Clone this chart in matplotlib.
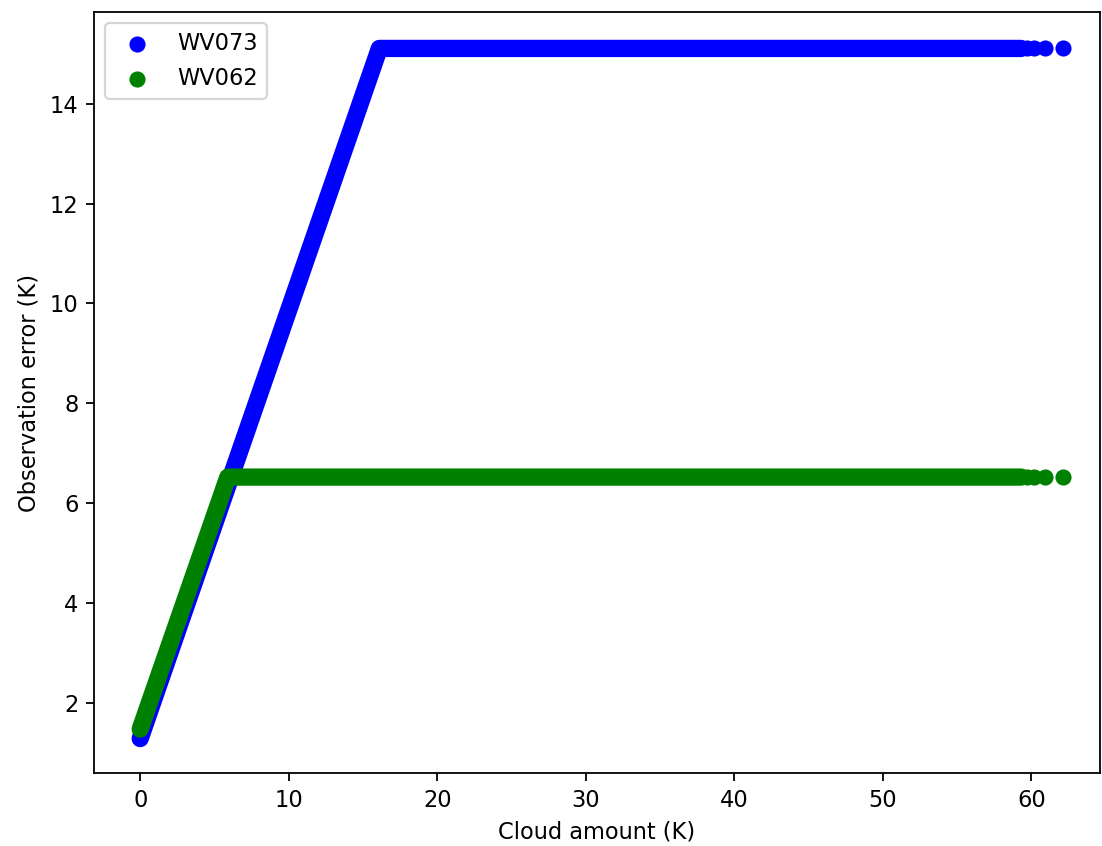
import matplotlib
matplotlib.use("Agg")
import matplotlib.pyplot as plt

# Observation error vs cloud amount
# dense part of each series: the points lie on a piecewise line (breakpoints)
wv073_x = [0.0, 16.1, 59.3]
wv073_y = [1.28, 15.11, 15.11]
wv062_x = [0.0, 5.9, 59.3]
wv062_y = [1.47, 6.52, 6.52]

# sparse points at the end of the plateau
wv073_tail_x = [59.7, 60.2, 60.9, 62.1]
wv073_tail_y = [15.11, 15.11, 15.11, 15.11]
wv062_tail_x = [59.7, 60.2, 60.9, 62.1]
wv062_tail_y = [6.52, 6.52, 6.52, 6.52]

DPI = 162
fig = plt.figure(figsize=(1102 / DPI, 846 / DPI), dpi=DPI)
ax = fig.add_axes([0.0853, 0.0863, 0.9127, 0.8995])

lw = 7.7  # same width as the scatter dots
ax.plot(wv073_x, wv073_y, color="blue", lw=lw,
        solid_capstyle="round", solid_joinstyle="round")
ax.scatter(wv073_tail_x, wv073_tail_y, color="blue", s=38, label="WV073")
ax.plot(wv062_x, wv062_y, color="green", lw=lw,
        solid_capstyle="round", solid_joinstyle="round")
ax.scatter(wv062_tail_x, wv062_tail_y, color="green", s=38, label="WV062")

ax.set_xlim(-3.11, 64.6)
ax.set_ylim(0.59, 15.84)
ax.set_xlabel("Cloud amount (K)")
ax.set_ylabel("Observation error (K)")
ax.legend(loc="upper left")

fig.savefig("out.png", dpi=DPI)
